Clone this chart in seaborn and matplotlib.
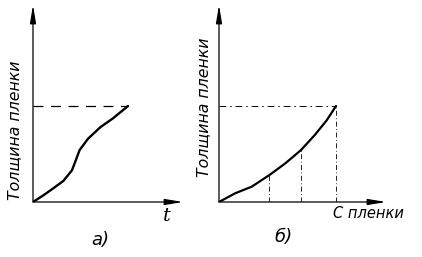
import matplotlib
matplotlib.use("Agg")
import matplotlib.pyplot as plt
import seaborn as sns
import pandas as pd

sns.set_theme(style="white")
plt.rcParams['font.family'] = ['DejaVu Sans']

# Panel a: film thickness vs time (normalized)
a_time = [0.0, 0.11, 0.21, 0.32, 0.41, 0.445, 0.49, 0.58, 0.71, 0.84, 1.0]
a_thick = [0.0, 0.07, 0.14, 0.22, 0.33, 0.42, 0.54, 0.66, 0.78, 0.87, 1.0]
# Panel b: film thickness vs concentration (normalized)
b_conc = [0.0, 0.137, 0.28, 0.43, 0.564, 0.70, 0.82, 0.92, 1.0]
b_thick = [0.0, 0.09, 0.16, 0.28, 0.40, 0.54, 0.70, 0.85, 1.0]
b_marks = [0.43, 0.70, 1.0]  # vertical dashed guides

ylabel = "Толщина пленки"
xlabel_a = "t"
xlabel_b = "С пленки"
panel_a = "а)"
panel_b = "б)"

W, H = 422, 257
fig = plt.figure(figsize=(W / 100, H / 100), dpi=100)

def make_ax(px_left, px_right, px_bottom, px_top):
    return fig.add_axes([px_left / W, (H - px_bottom) / H,
                         (px_right - px_left) / W, (px_bottom - px_top) / H])

axa = make_ax(33, 183, 202, 5)
axb = make_ax(219, 386, 202, 5)
axa.set_xlim(0, 150 / 95)
axa.set_ylim(0, 197 / 96)
axb.set_xlim(0, 167 / 117)
axb.set_ylim(0, 197 / 96)

for ax in (axa, axb):
    ax.set_axis_off()
    xmax = ax.get_xlim()[1]
    ymax = ax.get_ylim()[1]
    ax.annotate("", xy=(xmax, 0), xytext=(0, 0),
                arrowprops=dict(arrowstyle="-|>,head_length=0.9,head_width=0.15",
                                color="black", lw=0.9, shrinkA=0, shrinkB=0),
                annotation_clip=False)
    ax.annotate("", xy=(0, ymax), xytext=(0, 0),
                arrowprops=dict(arrowstyle="-|>,head_length=0.9,head_width=0.15",
                                color="black", lw=0.9, shrinkA=0, shrinkB=0),
                annotation_clip=False)

dfa = pd.DataFrame({"x": a_time, "y": a_thick})
dfb = pd.DataFrame({"x": b_conc, "y": b_thick})
sns.lineplot(data=dfa, x="x", y="y", ax=axa, color="black", lw=1.7, sort=False)
sns.lineplot(data=dfb, x="x", y="y", ax=axb, color="black", lw=1.6, sort=False)

axa.plot([0, a_time[-1]], [a_thick[-1], a_thick[-1]],
         color="black", lw=0.9, ls=(0, (8, 6)))
axb.plot([0, b_conc[-1]], [b_thick[-1], b_thick[-1]],
         color="black", lw=0.7, ls=(0, (7, 4, 1.5, 4)))
for xm in b_marks:
    ym = b_thick[b_conc.index(xm)]
    axb.plot([xm, xm], [0, ym], color="black", lw=0.6, ls=(0, (6, 3, 1, 3)))

tkw = dict(style="italic", color="black")
fig.text(15 / W, 1 - 130 / H, ylabel, rotation=90, ha="center", va="center",
         fontsize=11.3, **tkw)
fig.text(204 / W, 1 - 107 / H, ylabel, rotation=90, ha="center", va="center",
         fontsize=11.3, **tkw)
fig.text(167 / W, 1 - 216 / H, xlabel_a, ha="center", va="center",
         fontsize=14, family="DejaVu Serif", style="italic", color="black")
fig.text(368 / W, 1 - 213 / H, xlabel_b, ha="center", va="center",
         fontsize=10.5, **tkw)
fig.text(100 / W, 1 - 240 / H, panel_a, ha="center", va="center",
         fontsize=13, **tkw)
fig.text(283 / W, 1 - 237 / H, panel_b, ha="center", va="center",
         fontsize=13, **tkw)

fig.savefig("out.png", dpi=100, facecolor="white")
